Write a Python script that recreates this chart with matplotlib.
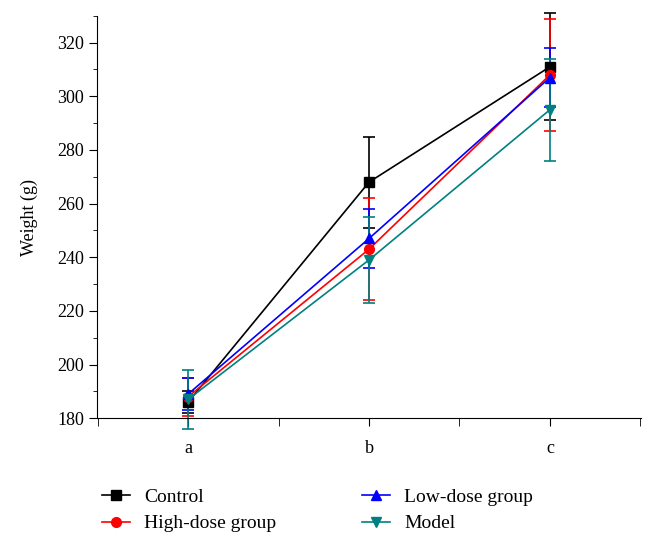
import numpy as np
import matplotlib.pyplot as plt
from matplotlib.ticker import MultipleLocator
from matplotlib.lines import Line2D

plt.rcParams['font.family'] = ['Liberation Serif', 'DejaVu Serif']

groups = ['a', 'b', 'c']
control = [186, 268, 311]
control_err = [4, 17, 20]
high_dose = [188, 243, 308]
high_dose_err = [7, 19, 21]
low_dose = [189, 247, 307]
low_dose_err = [6, 11, 11]
model = [187, 239, 295]
model_err = [11, 16, 19]

x = np.arange(len(groups))

fig = plt.figure(figsize=(6.56, 5.46), dpi=100)
ax = fig.add_axes([0.148, 0.234, 0.829, 0.737])

series = [
    ('Control', control, control_err, 'black', 's'),
    ('High-dose group', high_dose, high_dose_err, 'red', 'o'),
    ('Low-dose group', low_dose, low_dose_err, 'blue', '^'),
    ('Model', model, model_err, '#008080', 'v'),
]
handles = []
for label, vals, err, color, marker in series:
    ax.errorbar(x, vals, yerr=err, color=color, marker=marker, markersize=7,
                linewidth=1.2, elinewidth=1.2, capsize=4, capthick=1.2,
                clip_on=False)
    handles.append(Line2D([], [], color=color, marker=marker, markersize=7,
                          linewidth=1.2, label=label))

ax.set_xlim(-0.503, 2.503)
ax.set_ylim(180, 330)
ax.set_xticks(x)
ax.set_xticklabels(groups)
ax.xaxis.set_minor_locator(MultipleLocator(0.5))
ax.yaxis.set_major_locator(MultipleLocator(20))
ax.yaxis.set_minor_locator(MultipleLocator(10))
ax.tick_params(which='both', direction='out', labelsize=13)
ax.tick_params(which='major', length=6)
ax.tick_params(axis='y', which='minor', length=3)
ax.tick_params(axis='x', which='minor', length=6)
ax.tick_params(axis='x', pad=10)
ax.spines['top'].set_visible(False)
ax.spines['right'].set_visible(False)
ax.set_ylabel('Weight (g)', fontsize=13, labelpad=14)

fig.legend(handles=handles, loc='lower left', bbox_to_anchor=(0.129, -0.007), ncol=2,
           frameon=False, fontsize=14, columnspacing=4.4, handlelength=1.45,
           handletextpad=0.72, labelspacing=0.45)

fig.savefig('out.png', dpi=100)
